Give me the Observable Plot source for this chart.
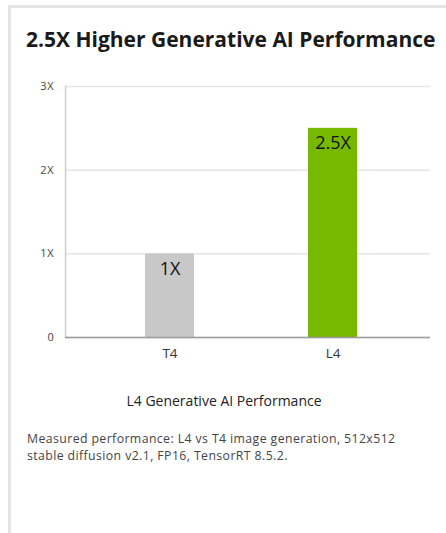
<!DOCTYPE html>
<html>
<head>
<meta charset="utf-8">
<script src="https://cdn.jsdelivr.net/npm/d3@7"></script>
<script src="https://cdn.jsdelivr.net/npm/@observablehq/plot@0.6"></script>
<style>
  html, body { margin: 0; padding: 0; background: #fff; width: 446px; height: 533px; overflow: hidden; font-family: "Open Sans", "DejaVu Sans", sans-serif; }
  #card { position: absolute; left: 8px; top: 5px; width: 460px; height: 560px; border-left: 3px solid #e4e4e4; border-top: 3px solid #e4e4e4; box-sizing: border-box; }
  #title { position: absolute; left: 26px; top: 25px; font-size: 21px; font-weight: 700; color: #1a1a1a; white-space: nowrap; }
  #chart { position: absolute; left: 0; top: 70px; }
  #chart svg g[aria-label="y-axis tick label"] text { letter-spacing: 0.8px; }
  #xlabel { position: absolute; left: 0; width: 448px; top: 391px; text-align: center; font-size: 14px; color: #222; }
  #caption { position: absolute; left: 27px; top: 430px; font-size: 12.3px; line-height: 17px; color: #444; letter-spacing: 0.4px; white-space: nowrap; }
</style>
</head>
<body>
<div id="card"></div>
<div id="title">2.5X Higher Generative AI Performance</div>
<div id="chart"></div>
<div id="xlabel">L4 Generative AI Performance</div>
<div id="caption">Measured performance: L4 vs T4 image generation, 512x512<br>stable diffusion v2.1, FP16, TensorRT 8.5.2.</div>
<script>
const gpus = ["T4", "L4"];
const performance = [1, 2.5];
const valueLabels = ["1X", "2.5X"];
const barColors = ["#c8c8c8", "#76b900"];
const yTicks = [0, 1, 2, 3];
const yTickLabels = ["0", "1X", "2X", "3X"];

const data = gpus.map((g, i) => ({gpu: g, value: performance[i], label: valueLabels[i], color: barColors[i]}));

const plot = Plot.plot({
  width: 446,
  height: 297,
  marginLeft: 65,
  marginRight: 16,
  marginTop: 16,
  marginBottom: 30,
  style: {fontFamily: "'Open Sans', 'DejaVu Sans', sans-serif", background: "transparent", color: "#333"},
  x: {domain: gpus, paddingInner: 0.7, paddingOuter: 0.466, align: 0.52, label: null},
  y: {domain: [0, 3], label: null},
  marks: [
    Plot.gridY(yTicks, {stroke: "#e6e6e6", strokeOpacity: 1, strokeWidth: 1.5}),
    Plot.frame({anchor: "left", stroke: "#cfcfcf", strokeWidth: 1.5}),
    Plot.axisY(yTicks, {tickSize: 0, tickPadding: 11, tickFormat: (d) => yTickLabels[yTicks.indexOf(d)], fontSize: 11, fill: "#444"}),
    Plot.axisX({tickSize: 0, tickPadding: 11, fontSize: 13.5, fill: "#333"}),
    Plot.barY(data, {x: "gpu", y: "value", fill: "color"}),
    Plot.ruleY([0], {stroke: "#9a9a9a", strokeWidth: 1.5}),
    Plot.text(data, {x: "gpu", y: "value", text: "label", dy: 15, fontSize: 18, fill: "#111"})
  ]
});
document.getElementById("chart").appendChild(plot);
</script>
</body>
</html>
